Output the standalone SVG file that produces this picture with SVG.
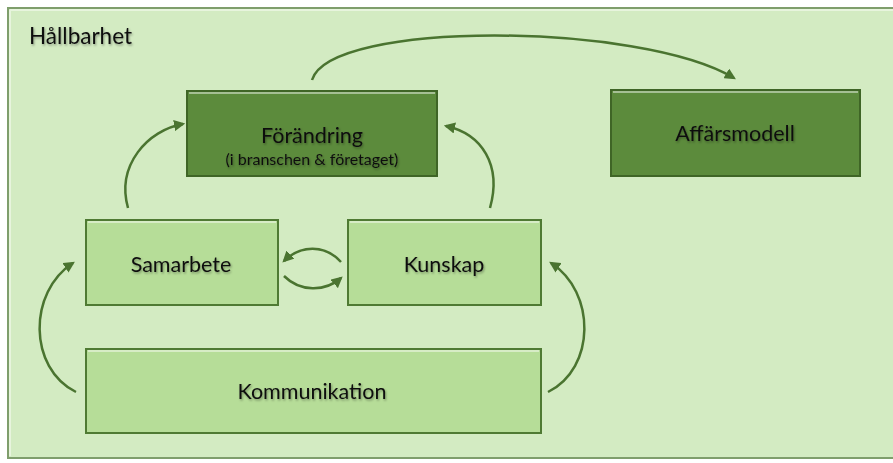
<svg xmlns="http://www.w3.org/2000/svg" width="893" height="463" viewBox="0 0 893 463">
<defs>
<style>
.txt{font-family:Lato,"Open Sans","Liberation Sans",sans-serif;fill:#111;text-anchor:middle}
.light{fill:#b6dd98;stroke:#4f7a33;stroke-width:2}
.dark{fill:#5c8b3c;stroke:#3f6526;stroke-width:2}
.hl{fill:none;stroke:#ffffff;stroke-opacity:0.45;stroke-width:2}
.conn{fill:none;stroke:#4a7430;stroke-width:2.5;marker-end:url(#ah)}
</style>
<marker id="ah" viewBox="0 0 10 10" refX="8" refY="5" markerWidth="4.5" markerHeight="4.5" orient="auto" markerUnits="strokeWidth">
<path d="M0,0 L10,5 L0,10 z" fill="#4a7430"/>
</marker>
<filter id="sh" x="-10%" y="-30%" width="120%" height="160%">
<feDropShadow dx="1" dy="1.5" stdDeviation="1.3" flood-color="#000" flood-opacity="0.35"/>
</filter>
</defs>
<rect width="893" height="463" fill="#ffffff"/>
<g id="hallbarhet">
<rect x="8" y="8" width="888" height="450" fill="#d3ebc2" stroke="#7f9e6c" stroke-width="2"/>
<path d="M10,10 H893 M10,10 V456" class="hl"/>
<text x="29" y="44" class="txt" style="text-anchor:start;font-size:22.5px" filter="url(#sh)">Hållbarhet</text>
</g>
<g id="forandring">
<rect x="187" y="91" width="250" height="85" class="dark"/>
<path d="M189,93 H435" class="hl"/>
<text x="312" y="143" class="txt" style="font-size:21.5px" filter="url(#sh)">Förändring</text>
<text x="312" y="165" class="txt" style="font-size:16px" filter="url(#sh)">(i branschen &amp; företaget)</text>
</g>
<g id="affarsmodell">
<rect x="611" y="90" width="249" height="86" class="dark"/>
<path d="M613,92 H858" class="hl"/>
<text x="735" y="141" class="txt" style="font-size:21.5px" filter="url(#sh)">Affärsmodell</text>
</g>
<g id="samarbete">
<rect x="86" y="220" width="192" height="85" class="light"/>
<path d="M88,222 H276" class="hl"/>
<text x="181" y="272" class="txt" style="font-size:21.5px" filter="url(#sh)">Samarbete</text>
</g>
<g id="kunskap">
<rect x="348" y="220" width="193" height="85" class="light"/>
<path d="M350,222 H539" class="hl"/>
<text x="444" y="272" class="txt" style="font-size:21.5px" filter="url(#sh)">Kunskap</text>
</g>
<g id="kommunikation">
<rect x="86" y="349" width="455" height="84" class="light"/>
<path d="M88,351 H539" class="hl"/>
<text x="312" y="399" class="txt" style="font-size:21.5px" filter="url(#sh)">Kommunikation</text>
</g>
<g id="connectors">
<path class="conn" d="M312,80 C330,20 640,22 734,78"/>
<path class="conn" d="M128,208 C116,165 148,130 183,124"/>
<path class="conn" d="M490,208 C502,165 482,134 446,126"/>
<path class="conn" d="M76,392 C28,368 28,292 73,263"/>
<path class="conn" d="M548,392 C596,368 596,292 551,263"/>
<path class="conn" d="M341,262 C325,244 300,245 284,261"/>
<path class="conn" d="M284,276 C300,292 325,292 341,278"/>
</g>
</svg>
